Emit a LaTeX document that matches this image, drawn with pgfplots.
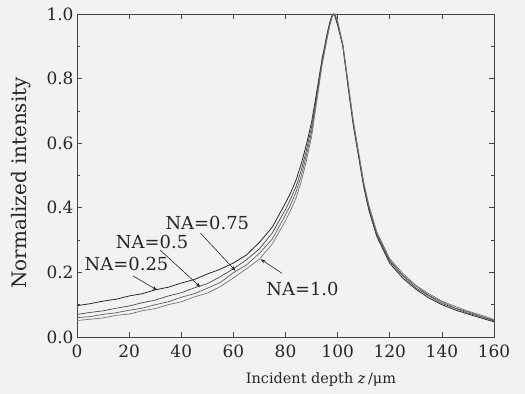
\documentclass[border=0pt]{standalone}
\usepackage{fontspec}
\setmainfont{DejaVu Serif}
\usepackage{pgfplots}
\usepackage{pgfplotstable}
\pgfplotsset{compat=1.18}
\usetikzlibrary{arrows.meta}
\definecolor{bg}{RGB}{242,242,242}
\definecolor{ln}{RGB}{40,40,40}
\definecolor{axc}{RGB}{70,70,70}

\pgfplotstableread{
x a b c d
0 0.097 0.070 0.060 0.051
5 0.103 0.076 0.063 0.055
10 0.111 0.081 0.070 0.059
15 0.117 0.089 0.075 0.067
20 0.127 0.096 0.083 0.071
25 0.134 0.106 0.089 0.081
30 0.146 0.114 0.100 0.088
35 0.154 0.127 0.109 0.100
40 0.167 0.137 0.123 0.109
45 0.178 0.152 0.134 0.124
50 0.195 0.165 0.151 0.136
55 0.210 0.187 0.169 0.156
60 0.229 0.211 0.199 0.183
65 0.254 0.239 0.223 0.211
70 0.293 0.273 0.259 0.241
75 0.341 0.323 0.304 0.289
80 0.415 0.395 0.378 0.360
82 0.447 0.428 0.410 0.393
84 0.485 0.465 0.448 0.430
86 0.535 0.515 0.498 0.480
88 0.595 0.578 0.562 0.545
90 0.665 0.650 0.635 0.620
92 0.760 0.750 0.740 0.730
94 0.860 0.853 0.847 0.840
96 0.940 0.935 0.930 0.925
97 0.975 0.972 0.968 0.965
98 0.998 0.997 0.995 0.993
98.5 1.000 1.000 0.999 0.998
99 0.992 0.995 0.998 1.000
100 0.965 0.970 0.975 0.978
102 0.900 0.900 0.905 0.905
104 0.775 0.780 0.785 0.790
106 0.655 0.660 0.665 0.670
108 0.560 0.565 0.570 0.575
110 0.465 0.470 0.475 0.480
112 0.392 0.398 0.403 0.408
115 0.312 0.318 0.322 0.326
120 0.228 0.234 0.238 0.242
125 0.182 0.189 0.191 0.197
130 0.148 0.152 0.158 0.160
135 0.121 0.127 0.129 0.134
140 0.100 0.104 0.109 0.111
145 0.084 0.089 0.090 0.095
150 0.071 0.074 0.078 0.080
155 0.059 0.063 0.064 0.068
160 0.047 0.050 0.052 0.054
}\data

\begin{document}
\begin{tikzpicture}
\begin{axis}[
  set layers,
  scale only axis, width=417bp, height=323bp,
  xmin=0, xmax=160, ymin=0, ymax=1.0,
  xtick={0,20,40,60,80,100,120,140,160},
  ytick={0,0.2,0.4,0.6,0.8,1.0},
  minor y tick num=1,
  tick align=inside,
  major tick length=5bp, minor tick length=3bp,
  axis line style={axc, line width=0.8pt},
  tick style={axc, line width=0.6pt},
  ticklabel style={font=\fontsize{17}{20}\selectfont, text=black!85},
  /pgf/number format/assume math mode=true,
  yticklabel style={/pgf/number format/.cd, fixed, fixed zerofill, precision=1},
  xticklabel style={yshift=-4bp, /pgf/number format/.cd, fixed, precision=0},
  clip=false,
  xlabel={Incident depth \textit{z}\,/μm},
  ylabel={Normalized intensity},
  xlabel style={font=\fontsize{14.5}{17}\selectfont, text=black!85, at={(rel axis cs:0.585,-0.133)}, anchor=center},
  ylabel style={font=\fontsize{20}{23}\selectfont, text=black!85, at={(rel axis cs:-0.134,0.477)}, anchor=center, rotate=0},
]
\begin{pgfonlayer}{axis background}
\fill[bg] (rel axis cs:-0.1847,-0.1765) rectangle (rel axis cs:1.0743,1.0433);
\end{pgfonlayer}
\coordinate (bl) at (rel axis cs:-0.1847,-0.1765);
\coordinate (tr) at (rel axis cs:1.0743,1.0433);
\addplot[ln, line width=0.8pt] table[x=x,y=a] {\data};
\addplot[ln!85, line width=0.7pt] table[x=x,y=b] {\data};
\addplot[ln!75, line width=0.7pt] table[x=x,y=c] {\data};
\addplot[ln!65, line width=0.7pt] table[x=x,y=d] {\data};
\node[font=\fontsize{18}{21}\selectfont, text=black!85] at (axis cs:19,0.225) {NA=0.25};
\node[font=\fontsize{18}{21}\selectfont, text=black!85] at (axis cs:28.8,0.294) {NA=0.5};
\node[font=\fontsize{18}{21}\selectfont, text=black!85] at (axis cs:50,0.353) {NA=0.75};
\node[font=\fontsize{18}{21}\selectfont, text=black!85] at (axis cs:86.5,0.149) {NA=1.0};
\draw[ln, line width=0.6pt, -{Stealth[length=5bp,width=3.5bp]}] (axis cs:21.5,0.189) -- (axis cs:30.8,0.145);
\draw[ln, line width=0.6pt, -{Stealth[length=5bp,width=3.5bp]}] (axis cs:31.9,0.269) -- (axis cs:47.3,0.155);
\draw[ln, line width=0.6pt, -{Stealth[length=5bp,width=3.5bp]}] (axis cs:47.3,0.322) -- (axis cs:60.8,0.205);
\draw[ln, line width=0.6pt, -{Stealth[length=5bp,width=3.5bp]}] (axis cs:78.7,0.197) -- (axis cs:70.4,0.241);
\end{axis}
\pgfresetboundingbox
\useasboundingbox (bl) rectangle (tr);
\end{tikzpicture}
\end{document}
